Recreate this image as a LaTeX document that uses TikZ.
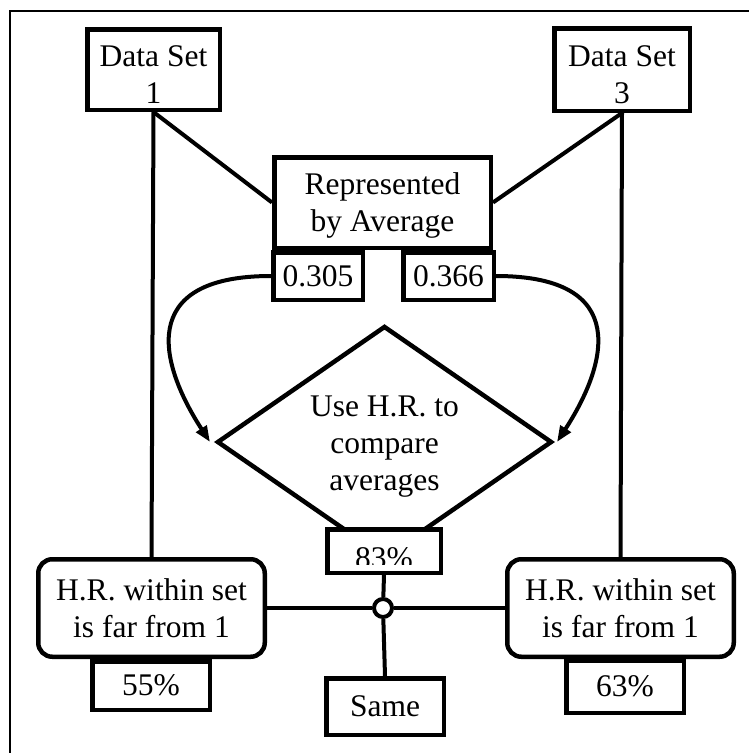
\documentclass[tikz,border=0pt]{standalone}
\usepackage{fontspec}
\setmainfont{Liberation Serif}
\usetikzlibrary{shapes.geometric,arrows.meta}
% zero-width strut that lowers a node's text block
\newcommand{\dropby}[1]{\rule{0pt}{#1}}

\begin{document}
\begin{tikzpicture}[x=1pt,y=-1pt,
  every node/.style={font=\fontsize{31.5}{37}\selectfont, align=center, inner sep=0pt},
  box/.style={draw, line width=4.5pt, fill=white},
  hrbox/.style={box, rounded corners=14pt},
  link/.style={line width=4pt},
  flow/.style={line width=4pt, -{Triangle[length=16pt,width=12pt]}}]
\useasboundingbox (0,0) rectangle (749,753);

% page frame
\draw[line width=2pt] (10,753) -- (10,10.5) -- (749,10.5);

% data sets and their average
\node[box, minimum width=132.5pt, minimum height=80.5pt] (ds1) at (153.5,69.5) {\dropby{31pt}Data Set\\1};
\node[box, minimum width=135.5pt, minimum height=82.5pt] (ds3) at (622,69.5) {\dropby{31pt}Data Set\\3};
\node[box, minimum width=216.5pt, minimum height=90.5pt] (rep) at (382.5,202.5) {\dropby{27pt}Represented\\by Average};
\node[box, minimum width=89.5pt, minimum height=47.5pt] (v1) at (318,276) {0.305};
\node[box, minimum width=90.5pt, minimum height=47.5pt] (v3) at (448.5,276) {0.366};

% comparison of the averages
\node[draw, diamond, aspect=1.444, line width=4.5pt, fill=white,
      minimum width=335pt, minimum height=232pt] (cmp) at (384.5,442) {\dropby{30pt}Use H.R. to\\compare\\averages};
\node[box, minimum width=113.5pt, minimum height=43.5pt] (p83) at (384,551) {};
\begin{scope}
  \clip (325,527) rectangle (443,564);
  \node[anchor=base] (p83t) at (384,568) {83\%};
\end{scope}

% within-set ratios
\node[hrbox, minimum width=226.5pt, minimum height=97.5pt] (hr1) at (151.5,608) {H.R. within set\\is far from 1};
\node[hrbox, minimum width=226.5pt, minimum height=97.5pt] (hr3) at (620.5,608) {H.R. within set\\is far from 1};
\node[box, minimum width=117.5pt, minimum height=48.5pt] (p55) at (151,685.5) {55\%};
\node[box, minimum width=117.5pt, minimum height=52.5pt] (p63) at (625,686.5) {63\%};
\node[box, minimum width=117.5pt, minimum height=56.5pt] (same) at (385,706.5) {Same};
\node[circle, draw, line width=4pt, fill=white, minimum size=18pt] (jn) at (383,608) {};

% arrow targets beside the diamond corners
\coordinate (tipL) at (210,442);
\coordinate (tipR) at (557,442);

% connectors
\draw[link] (ds1.south) -- (rep.west);
\draw[link] (ds3.south) -- (rep.east);
\draw[link] (ds1.south) -- (hr1.north);
\draw[link] (ds3.south) -- (hr3.north);
\draw[flow] (v1.west) .. controls (135,276) and (160,365) .. (tipL);
\draw[flow] (v3.east) .. controls (632,276) and (607,365) .. (tipR);
\draw[link] (p83.south) -- (jn);
\draw[link] (jn) -- (same.north);
\draw[link] (hr1.east) -- (jn);
\draw[link] (jn) -- (hr3.west);
\end{tikzpicture}
\end{document}
